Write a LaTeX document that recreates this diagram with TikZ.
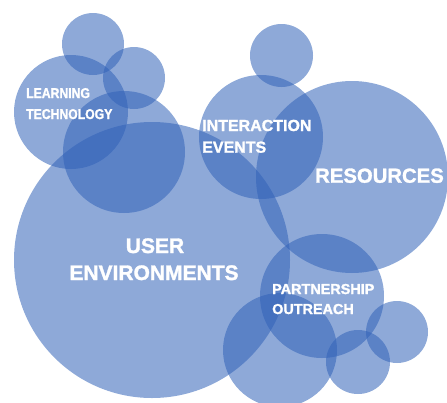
\documentclass[tikz,border=0pt]{standalone}
\usepackage{fontspec}
\setmainfont{Liberation Sans}
\newfontfamily\labfont{Liberation Sans Bold}[FakeBold=1.5]
\newfontfamily\labnarrow{Liberation Sans Bold}[FakeBold=1.5,FakeStretch=0.86]
\definecolor{bubblue}{RGB}{49,98,184}
\tikzset{
  bub/.style={circle, fill=bubblue, fill opacity=0.55, draw=none, inner sep=0pt, minimum size=#1},
  lab/.style={text=white, inner sep=0pt, anchor=base west, font=\labfont\fontsize{#1}{#1}\selectfont},
  labn/.style={text=white, inner sep=0pt, anchor=base west, font=\labnarrow\fontsize{#1}{#1}\selectfont},
  labc/.style={text=white, inner sep=0pt, anchor=base, font=\labfont\fontsize{#1}{#1}\selectfont}
}
\begin{document}
\begin{tikzpicture}[x=1pt,y=-1pt]
\useasboundingbox (0,0) rectangle (447,402);
% bubbles
\node[bub=276pt] (user) at (152,260) {};
\node[bub=62pt] (top1) at (93,44) {};
\node[bub=62pt] (top2) at (134,78) {};
\node[bub=114pt] (learn) at (71,112) {};
\node[bub=122pt] (mid) at (124,152) {};
\node[bub=63pt] (top3) at (281.5,55.5) {};
\node[bub=124pt] (inter) at (261,137) {};
\node[bub=192pt] (res) at (352,177) {};
\node[bub=124pt] (part) at (322,296) {};
\node[bub=114pt] (low) at (280,350) {};
\node[bub=64pt] (small1) at (358,362) {};
\node[bub=62pt] (small2) at (397,332) {};
% labels
\node[labn=14.2pt] (lt1) at (26,98) {LEARNING};
\node[labn=14.2pt] (lt2) at (26,119) {TECHNOLOGY};
\node[lab=16pt] (ie1) at (202,131) {INTERACTION};
\node[lab=16pt] (ie2) at (202,152.7) {EVENTS};
\node[lab=20.3pt] (rs) at (315,182.7) {RESOURCES};
\node[labc=21pt] (ue1) at (155,253) {USER};
\node[labc=21pt] (ue2) at (154,280) {ENVIRONMENTS};
\node[lab=14.4pt] (po1) at (272,294) {PARTNERSHIP};
\node[lab=14.4pt] (po2) at (272,314) {OUTREACH};
\end{tikzpicture}
\end{document}
